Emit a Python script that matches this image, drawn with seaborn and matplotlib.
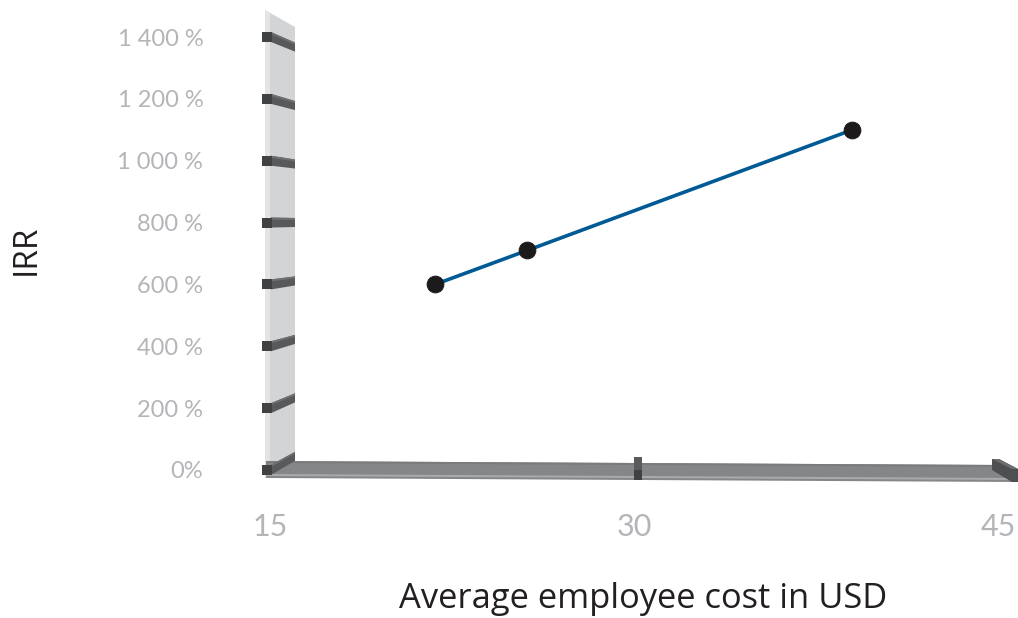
import numpy as np
import pandas as pd
import seaborn as sns
import matplotlib.pyplot as plt
from matplotlib.patches import Polygon
from matplotlib.ticker import FixedLocator, FuncFormatter

# Chart values
cost_usd = [21.8, 25.6, 39]
irr_pct = [600, 710, 1100]
x_ticks = [15, 30, 45]
y_ticks = [0, 200, 400, 600, 800, 1000, 1200, 1400]

df = pd.DataFrame({"cost": cost_usd, "irr": irr_pct})

sns.set_style("white")
plt.rcParams["font.family"] = ["Open Sans", "DejaVu Sans"]

W, H = 1018, 618
fig = plt.figure(figsize=(W / 100, H / 100), dpi=100)
# plot area in pixels: x 270..998, y 37..470 (top-down)
ax = fig.add_axes([270 / W, (H - 470) / H, 728 / W, 433 / H])
ax.set_xlim(15, 45)
ax.set_ylim(0, 1400)

sx = 30 / 728.0      # data units per pixel, x
sy = 1400 / 433.0    # data units per pixel, y


def pt(xp, yp):
    """Pixel position (top-left origin) -> data coordinates."""
    return (15 + (xp - 270) * sx, (470 - yp) * sy)


def poly(points, color, z, **kw):
    ax.add_patch(Polygon([pt(*p) for p in points], closed=True, facecolor=color,
                         edgecolor="none", clip_on=False, zorder=z, **kw))


# back wall
poly([(265, 10), (295, 27), (295, 478), (265, 478)], "#d3d4d6", 0.5)
poly([(265, 10), (270, 13), (270, 478), (265, 478)], "#e3e4e5", 0.55)

# floor
poly([(266, 461), (1002, 465), (1016, 482), (266, 478)], "#858687", 0.6)
poly([(266, 474), (1014, 478), (1015, 480), (266, 476)], "#a9aaab", 0.62)
poly([(266, 461), (1002, 465), (1003, 467), (266, 463)], "#7a7b7c", 0.61)

# wall tick bars
for v in y_ticks:
    py = 470 - v / sy
    off = -(py - 230) * 0.055
    poly([(271, py - 5), (295, py - 5 + off), (295, py + 4 + off), (271, py + 5)],
         "#58595b", 0.7)
    poly([(271, py - 5), (295, py - 5 + off), (295, py - 3 + off), (271, py - 3)],
         "#6e6f71", 0.71)
    poly([(262, py - 5), (272, py - 5), (272, py + 5), (262, py + 5)], "#404143", 0.72)

# floor tick bars
poly([(634, 457), (642, 457), (642, 470), (634, 470)], "#5a5b5d", 0.7)
poly([(634, 470), (642, 470), (642, 480), (634, 480)], "#404143", 0.7)
poly([(992, 459), (999, 459), (1018, 469), (1018, 482), (1012, 482), (992, 470)],
     "#4e4f51", 0.7)
poly([(992, 459), (999, 459), (1018, 469), (1012, 469)], "#6c6d6f", 0.71)

# data line
sns.lineplot(data=df, x="cost", y="irr", ax=ax, color="#005a96", linewidth=2.6,
             marker="o", markersize=12, markerfacecolor="#1c1a1b",
             markeredgecolor="#1c1a1b", zorder=3, clip_on=False)

for s in ax.spines.values():
    s.set_visible(False)

ax.xaxis.set_major_locator(FixedLocator(x_ticks))
ax.yaxis.set_major_locator(FixedLocator(y_ticks))


def pct(v, _):
    v = int(round(v))
    if v == 0:
        return "0%"
    return f"{v:,}".replace(",", " ") + " %"


ax.yaxis.set_major_formatter(FuncFormatter(pct))
ax.tick_params(axis="y", length=0, pad=48, labelsize=17, labelcolor="#b3b5b8")
ax.tick_params(axis="x", length=0, pad=31, labelsize=22, labelcolor="#b3b5b8")
for lab in ax.get_xticklabels() + ax.get_yticklabels():
    lab.set_fontfamily(["Lato", "DejaVu Sans"])

ax.set_xlabel("Average employee cost in USD", fontsize=24.8, color="#231f20", va="center")
ax.set_ylabel("IRR", fontsize=24, color="#231f20", va="center")
ax.xaxis.set_label_coords((643.5 - 270) / 728, (470 - 599) / 433)
ax.yaxis.set_label_coords((26 - 270) / 728, (470 - 250) / 433)

fig.savefig("out.png", dpi=100)
